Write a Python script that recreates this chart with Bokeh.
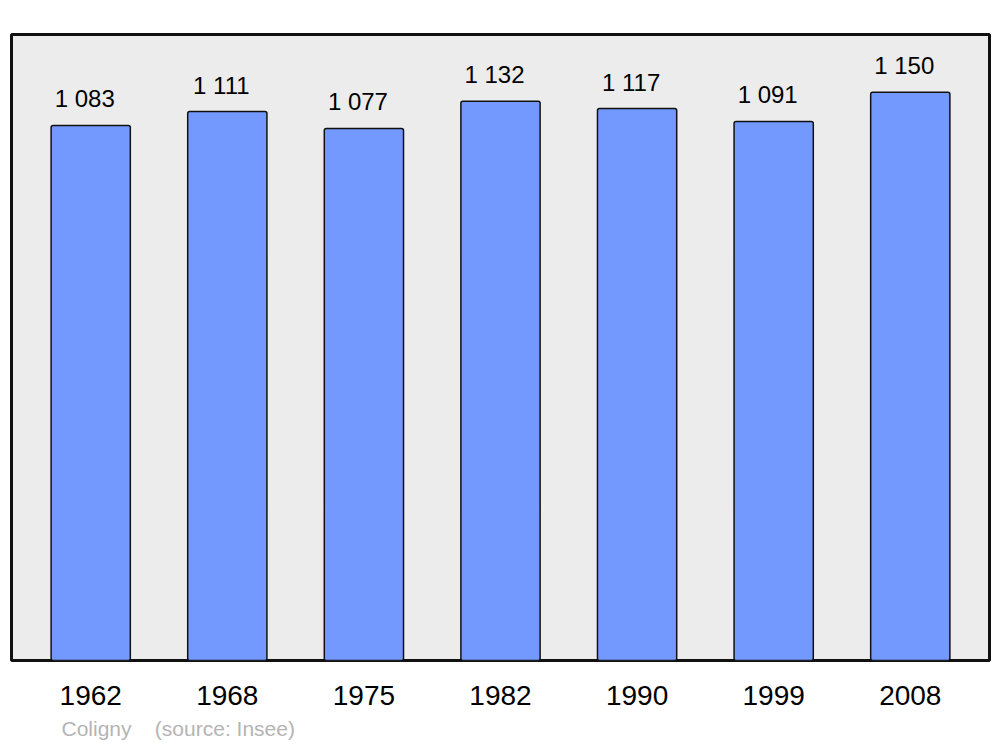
from bokeh.plotting import figure
from bokeh.models import (ColumnDataSource, FactorRange, Range1d, LabelSet, Title)
from bokeh.core.properties import value
from bokeh.embed import file_html
from bokeh.resources import INLINE

years = ["1962", "1968", "1975", "1982", "1990", "1999", "2008"]
population = [1083, 1111, 1077, 1132, 1117, 1091, 1150]
value_labels = [f"{v:,}".replace(",", " ") for v in population]
commune = "Coligny"
source_note = "(source: Insee)"

FONT = "Liberation Sans"

src = ColumnDataSource(dict(year=years, pop=population, lbl=value_labels))

p = figure(width=1000, height=747, output_backend="svg", toolbar_location=None,
           x_range=FactorRange(*years, range_padding=0.08, range_padding_units="absolute"),
           y_range=Range1d(0, 1267),
           x_axis_location="below", y_axis_location=None,
           min_border_left=11, min_border_right=11, min_border_top=34, min_border_bottom=87)
p.background_fill_color = "#ececec"
p.border_fill_color = "white"
p.outline_line_color = "#111111"
p.outline_line_width = 3
p.outline_line_alpha = 1.0
p.grid.visible = False

p.vbar(x="year", top="pop", bottom=0, width=0.58, source=src,
       fill_color="#7399ff", line_color="#111111", line_width=1.5, border_radius=2)

labels = LabelSet(x="year", y="pop", text="lbl", source=src, text_align="center",
                  text_baseline="alphabetic", y_offset=18, x_offset=-6,
                  text_font=value(FONT), text_font_size=value("24px"),
                  text_color=value("black"))
p.add_layout(labels)

ax = p.xaxis[0]
ax.axis_line_color = None
ax.major_tick_line_color = None
ax.minor_tick_line_color = None
ax.major_label_text_font = FONT
ax.major_label_text_font_size = "28px"
ax.major_label_text_color = "black"
ax.major_label_standoff = 19

footer = Title(text=commune + "\u00a0\u00a0\u00a0\u00a0" + source_note,
               align="left", offset=50, text_font=FONT, text_font_size="21px",
               text_font_style="normal", text_color="#b4b4b4", standoff=15)
p.add_layout(footer, "below")

open("out.html", "w").write(file_html(p, INLINE))
